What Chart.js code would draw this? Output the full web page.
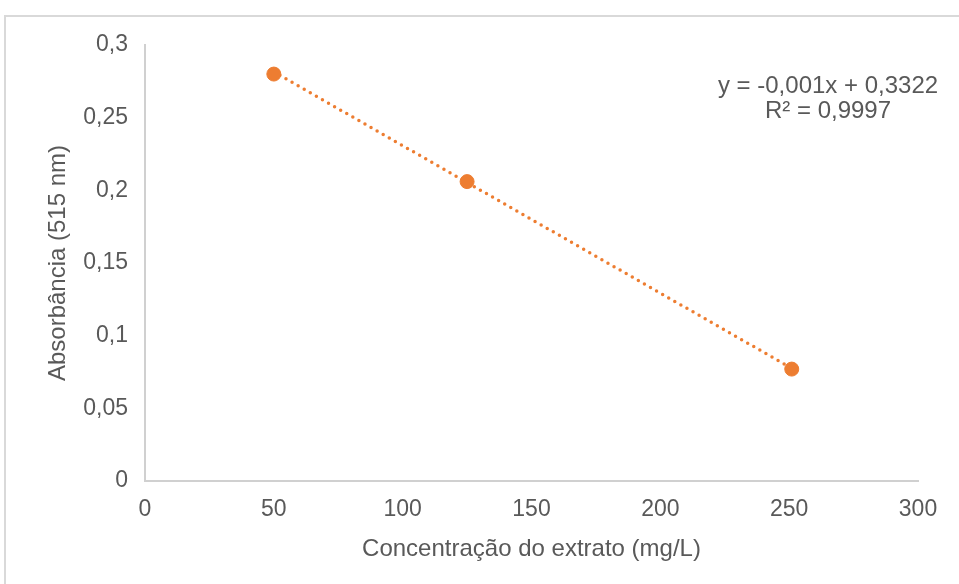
<!DOCTYPE html>
<html>
<head>
<meta charset="utf-8">
<script src="https://cdn.jsdelivr.net/npm/chart.js@4.4.1/dist/chart.umd.min.js"></script>
<style>
  html, body { margin: 0; padding: 0; background: #fff; }
  #wrap { position: relative; width: 959px; height: 584px; overflow: hidden; }
  #frame { position: absolute; left: 4px; top: 15px; width: 1200px; height: 800px;
           border-top: 2px solid #d9d9d9; border-left: 2px solid #d9d9d9; }
  canvas { position: absolute; left: 0; top: 0; }
</style>
</head>
<body>
<div id="wrap">
  <div id="frame"></div>
  <canvas id="chart" width="959" height="584"></canvas>
</div>
<script>
// measured points
const concentration = [50, 125, 251];
const absorbance = [0.28, 0.206, 0.077];

// linear trendline end points
const trendX = [50, 251];
const trendY = [0.2815, 0.0775];

const equationLines = ['y = -0,001x + 0,3322', 'R² = 0,9997'];

const xTitle = 'Concentração do extrato (mg/L)';
const yTitle = 'Absorbância (515 nm)';

const textColor = '#595959';
const orange = '#ED7D31';
const fontFamily = '"Liberation Sans", Arial, sans-serif';

const commaNum = v => String(Math.round(v * 1000) / 1000).replace('.', ',');

const equationPlugin = {
    id: 'equation',
    afterDatasetsDraw(chart) {
        const ctx = chart.ctx;
        ctx.save();
        ctx.fillStyle = textColor;
        ctx.font = '24px ' + fontFamily;
        ctx.textAlign = 'center';
        ctx.textBaseline = 'middle';
        equationLines.forEach((line, i) => ctx.fillText(line, 828, 86 + i * 25));
        ctx.restore();
    }
};

const ctx = document.getElementById('chart').getContext('2d');
new Chart(ctx, {
    type: 'scatter',
    data: {
        datasets: [
            {
                label: 'trend',
                data: trendX.map((x, i) => ({ x: x, y: trendY[i] })),
                showLine: true,
                borderColor: orange,
                borderWidth: 3.5,
                borderDash: [0, 7],
                borderCapStyle: 'round',
                pointRadius: 0,
                order: 2
            },
            {
                label: 'Absorbância',
                data: concentration.map((x, i) => ({ x: x, y: absorbance[i] })),
                backgroundColor: orange,
                borderColor: orange,
                pointRadius: 7,
                order: 1
            }
        ]
    },
    options: {
        responsive: false,
        animation: false,
        layout: { padding: { left: 0, top: 45, right: 41, bottom: 0 } },
        plugins: {
            legend: { display: false },
            tooltip: { enabled: false }
        },
        scales: {
            x: {
                type: 'linear',
                min: 0,
                max: 300,
                ticks: {
                    stepSize: 50,
                    color: textColor,
                    font: { family: fontFamily, size: 23 },
                    padding: 15
                },
                grid: { display: false, drawTicks: false },
                border: { color: '#d0d0d0', width: 2 },
                title: {
                    display: true,
                    text: xTitle,
                    color: textColor,
                    font: { family: fontFamily, size: 24 },
                    padding: { top: 8, bottom: 20 }
                },
                afterFit: scale => { scale.height = 103; }
            },
            y: {
                min: 0,
                max: 0.3,
                ticks: {
                    stepSize: 0.05,
                    color: textColor,
                    font: { family: fontFamily, size: 23 },
                    padding: 17,
                    callback: v => commaNum(v)
                },
                grid: { display: false, drawTicks: false },
                border: { color: '#d0d0d0', width: 2 },
                title: {
                    display: true,
                    text: yTitle,
                    color: textColor,
                    font: { family: fontFamily, size: 24 },
                    padding: { top: 44, bottom: 8 }
                },
                afterFit: scale => { scale.width = 145; }
            }
        }
    },
    plugins: [equationPlugin]
});
</script>
</body>
</html>
